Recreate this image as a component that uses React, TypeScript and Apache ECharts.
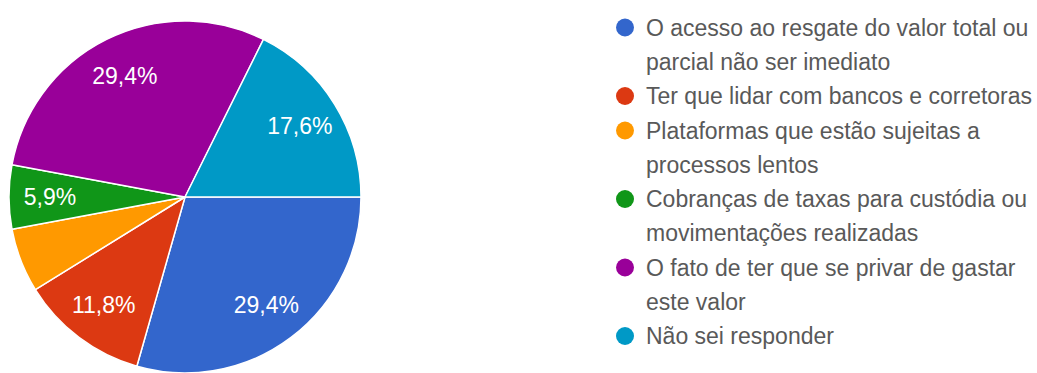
import React, { useEffect, useRef } from "react";
import * as echarts from "echarts";

const categoryLines: string[][] = [
  ["O acesso ao resgate do valor total ou", "parcial não ser imediato"],
  ["Ter que lidar com bancos e corretoras"],
  ["Plataformas que estão sujeitas a", "processos lentos"],
  ["Cobranças de taxas para custódia ou", "movimentações realizadas"],
  ["O fato de ter que se privar de gastar", "este valor"],
  ["Não sei responder"],
];
const names = categoryLines.map((l) => l.join(" "));
const values = [5, 2, 1, 1, 5, 3];
const colors = ["#3366cc", "#dc3912", "#ff9900", "#109618", "#990099", "#0099c6"];
const labelShown = [true, true, false, true, true, true];

const FONT = "'Liberation Sans', Arial, sans-serif";

export default function App() {
  const ref = useRef<HTMLDivElement>(null);
  useEffect(() => {
    if (!ref.current) return;
    const chart = echarts.init(ref.current, undefined, { renderer: "svg" });
    const rich: Record<string, any> = {
      t: { fontSize: 23, lineHeight: 34, color: "#595959", fontFamily: FONT, padding: [0, 0, 0, 12] },
      ind: { width: 18, height: 18 },
    };
    colors.forEach((c, i) => {
      rich["d" + i] = { width: 18, height: 18, borderRadius: 9, backgroundColor: c, verticalAlign: "middle" };
    });
    chart.setOption({
      animation: false,
      color: colors,
      legend: {
        orient: "vertical",
        left: 610,
        top: 16,
        padding: 0,
        itemGap: 11.5,
        itemWidth: 0,
        itemHeight: 0,
        icon: "circle",
        selectedMode: false,
        data: names,
        textStyle: { rich },
        formatter: (name: string) => {
          const i = names.indexOf(name);
          return categoryLines[i]
            .map((l, k) => (k === 0 ? `{d${i}|}` : `{ind|}`) + `{t|${l}}`)
            .join("\n");
        },
      },
      series: [
        {
          type: "pie",
          center: [185, 197],
          radius: [0, 176],
          startAngle: 0,
          clockwise: true,
          percentPrecision: 1,
          label: { show: false },
          labelLine: { show: false },
          emphasis: { disabled: true },
          itemStyle: { borderColor: "#ffffff", borderWidth: 1.5 },
          data: names.map((n, i) => ({ name: n, value: values[i], itemStyle: { color: colors[i] } })),
        },
        {
          type: "pie",
          center: [185, 197],
          radius: [88, 176],
          startAngle: 0,
          clockwise: true,
          percentPrecision: 1,
          silent: true,
          emphasis: { disabled: true },
          labelLine: { show: false },
          itemStyle: { color: "rgba(0,0,0,0)", borderWidth: 0 },
          label: {
            show: true,
            position: "inside",
            color: "#ffffff",
            fontSize: 23,
            fontFamily: FONT,
            formatter: (p: any) => String(p.percent.toFixed(1)).replace(".", ",") + "%",
          },
          data: names.map((n, i) => ({
            name: n,
            value: values[i],
            label: { show: labelShown[i] },
          })),
        },
      ],
    });
    return () => chart.dispose();
  }, []);
  return (
    <div
      ref={ref}
      style={{ position: "fixed", left: 0, top: 0, width: 1037, height: 373, background: "#fff" }}
    />
  );
}
